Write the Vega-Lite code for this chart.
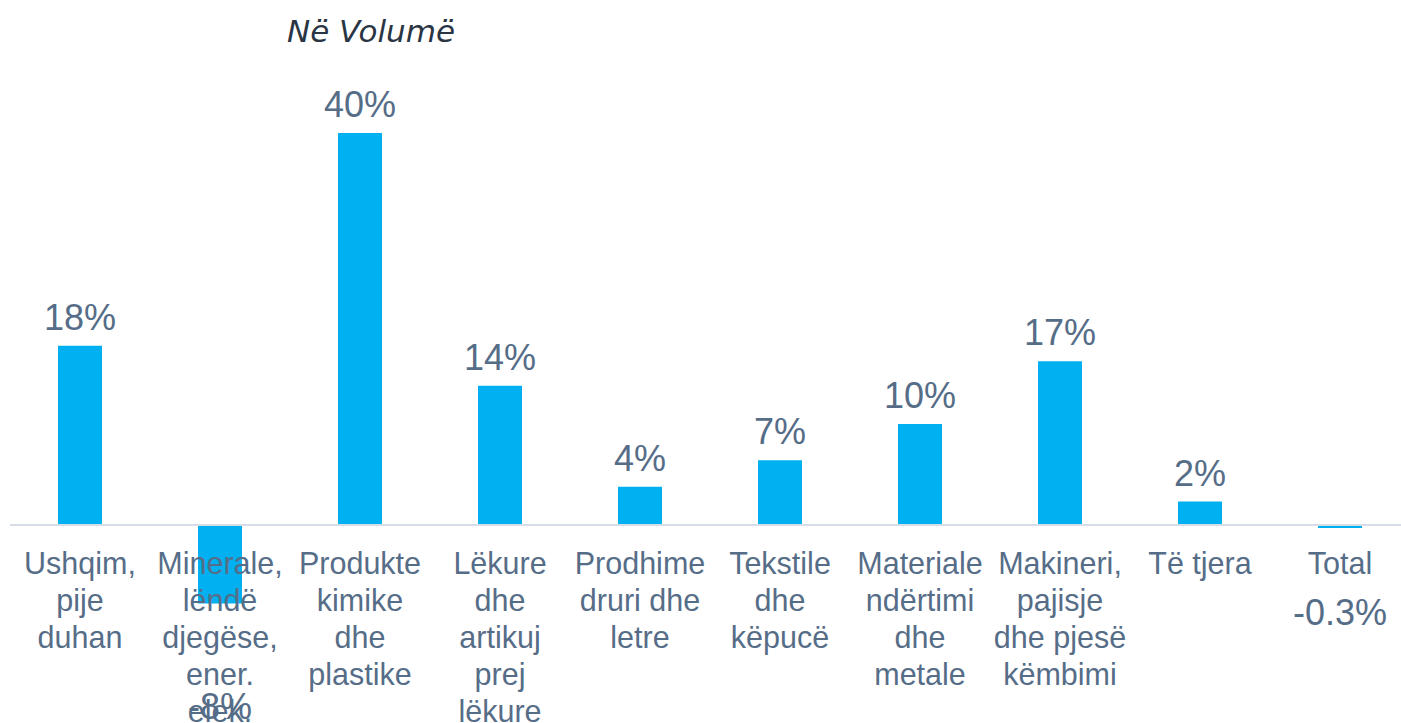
{
  "$schema": "https://vega.github.io/schema/vega-lite/v6.json",
  "width": 1400,
  "height": 658,
  "autosize": {"type": "none"},
  "padding": {"left": 10, "top": 65, "right": 0, "bottom": 0},
  "background": "white",
  "title": {
    "text": "Në Volumë",
    "font": "DejaVu Sans",
    "fontStyle": "italic",
    "fontWeight": "normal",
    "fontSize": 31,
    "color": "#2a3544",
    "anchor": "start",
    "frame": "group",
    "dx": 277,
    "offset": -8,
    "baseline": "alphabetic"
  },
  "data": {
    "values": [
      {"cat": "Ushqim, pije duhan", "label": "Ushqim,|pije|duhan", "value": 18.3, "text": "18%"},
      {"cat": "Minerale, lëndë djegëse, ener. elek.", "label": "Minerale,|lëndë|djegëse,|ener.|elek.", "value": -8.0, "text": "-8%"},
      {"cat": "Produkte kimike dhe plastike", "label": "Produkte|kimike|dhe|plastike", "value": 40.0, "text": "40%"},
      {"cat": "Lëkure dhe artikuj prej lëkure", "label": "Lëkure|dhe|artikuj|prej|lëkure", "value": 14.2, "text": "14%"},
      {"cat": "Prodhime druri dhe letre", "label": "Prodhime|druri dhe|letre", "value": 3.9, "text": "4%"},
      {"cat": "Tekstile dhe këpucë", "label": "Tekstile|dhe|këpucë", "value": 6.6, "text": "7%"},
      {"cat": "Materiale ndërtimi dhe metale", "label": "Materiale|ndërtimi|dhe|metale", "value": 10.3, "text": "10%"},
      {"cat": "Makineri, pajisje dhe pjesë këmbimi", "label": "Makineri,|pajisje|dhe pjesë|këmbimi", "value": 16.7, "text": "17%"},
      {"cat": "Të tjera", "label": "Të tjera", "value": 2.4, "text": "2%"},
      {"cat": "Total", "label": "Total", "value": -0.3, "text": "-0.3%"}
    ]
  },
  "encoding": {
    "x": {
      "field": "cat",
      "type": "nominal",
      "sort": null,
      "axis": null,
      "scale": {"paddingInner": 0.686, "paddingOuter": 0.343}
    }
  },
  "layer": [
    {
      "mark": {"type": "bar", "color": "#00b0f0"},
      "encoding": {
        "y": {
          "field": "value",
          "type": "quantitative",
          "axis": null,
          "scale": {"domain": [-20.2, 46.94], "nice": false, "zero": false}
        }
      }
    },
    {
      "mark": {"type": "rule", "color": "#d6dde7", "strokeWidth": 2},
      "encoding": {"y": {"datum": 0, "type": "quantitative"}, "x": null}
    },
    {
      "transform": [{"filter": "datum.value > 0"}],
      "mark": {"type": "text", "font": "Liberation Sans", "fontSize": 36, "color": "#566d88", "baseline": "alphabetic", "dy": -16},
      "encoding": {
        "y": {"field": "value", "type": "quantitative"},
        "text": {"field": "text"}
      }
    },
    {
      "transform": [{"filter": "datum.value < -1"}],
      "mark": {"type": "text", "font": "Liberation Sans", "fontSize": 36, "color": "#566d88", "baseline": "alphabetic", "dy": 116},
      "encoding": {
        "y": {"field": "value", "type": "quantitative"},
        "text": {"field": "text"}
      }
    },
    {
      "transform": [{"filter": "datum.value < 0 && datum.value > -1"}],
      "mark": {"type": "text", "font": "Liberation Sans", "fontSize": 36, "color": "#566d88", "baseline": "alphabetic", "dy": 97},
      "encoding": {
        "y": {"field": "value", "type": "quantitative"},
        "text": {"field": "text"}
      }
    },
    {
      "mark": {"type": "text", "font": "Liberation Sans", "fontSize": 30.5, "color": "#566d88", "baseline": "top", "lineBreak": "|", "lineHeight": 37, "dy": 25},
      "encoding": {
        "y": {"datum": 0, "type": "quantitative"},
        "text": {"field": "label"}
      }
    }
  ],
  "config": {"view": {"stroke": null}}
}
